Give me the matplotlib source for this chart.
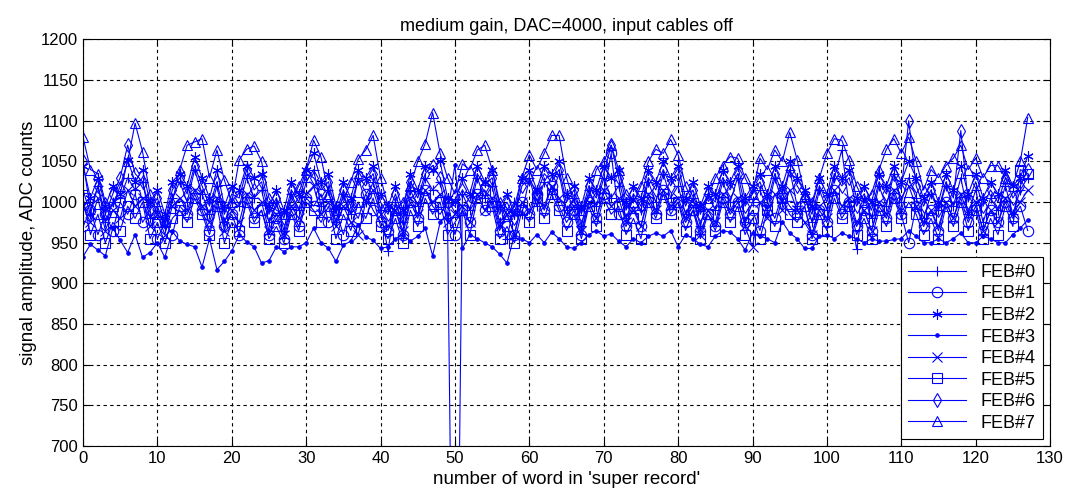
import numpy as np
import matplotlib
matplotlib.use('Agg')
import matplotlib.pyplot as plt

plt.rcParams['font.family'] = ['Liberation Sans', 'DejaVu Sans']

# word index inside the super record
words = np.arange(128)

# ADC readings per front-end board
feb0 = [1015, 985, 1020, 975, 1000, 1005, 1030, 1015, 1025, 980, 995, 970, 1005, 1025, 1000, 1040,
        1010, 985, 1020, 975, 1000, 995, 1030, 1005, 1015, 975, 1000, 965, 1010, 990, 1025, 1040,
        995, 1015, 975, 1010, 985, 1030, 1000, 1025, 990, 940, 1000, 975, 1015, 995, 1030, 1015,
        1025, 980, 190, 1010, 990, 1030, 1005, 1020, 975, 955, 1000, 985, 1030, 995, 1025, 1010,
        1035, 990, 1005, 970, 1015, 995, 1030, 1005, 1020, 980, 1005, 990, 1025, 1000, 1035, 1005,
        1020, 985, 1005, 970, 1010, 990, 1025, 1000, 1030, 975, 1000, 1015, 990, 1030, 1000, 1040,
        995, 1010, 975, 1015, 990, 1030, 1064, 995, 942, 1005, 980, 1020, 995, 1035, 1000, 1030,
        1005, 980, 1010, 990, 1020, 995, 1030, 985, 1015, 975, 1005, 990, 1020, 985, 1015, 1030]
feb1 = [970, 990, 960, 985, 965, 1000, 985, 1010, 975, 990, 955, 975, 960, 995, 985, 1010,
        990, 965, 1000, 970, 985, 960, 1005, 980, 990, 960, 980, 955, 990, 970, 1005, 995,
        1010, 975, 990, 960, 995, 980, 1010, 990, 975, 965, 990, 960, 1000, 980, 1015, 995,
        985, 1000, 960, 990, 975, 1010, 990, 1000, 965, 985, 960, 1000, 985, 1010, 990, 1020,
        995, 975, 990, 960, 1000, 980, 1010, 1060, 985, 970, 995, 970, 1005, 985, 1015, 990,
        1000, 975, 990, 965, 985, 970, 1005, 985, 1000, 975, 990, 965, 1000, 980, 1010, 995,
        985, 995, 960, 990, 975, 1015, 985, 1000, 970, 990, 965, 995, 980, 1010, 985, 950,
        995, 970, 990, 965, 1000, 980, 1005, 975, 995, 965, 990, 975, 1000, 980, 995, 965]
feb2 = [1045, 1005, 1030, 995, 1020, 1010, 1052, 1025, 1040, 1000, 1015, 985, 1025, 1035, 1020, 1055,
        1030, 1005, 1040, 995, 1020, 1015, 1045, 1030, 1035, 995, 1015, 990, 1025, 1010, 1040, 1060,
        1025, 1035, 995, 1025, 1005, 1040, 1030, 1045, 1010, 995, 1020, 990, 1035, 1015, 1045, 1040,
        1050, 1005, 1000, 1030, 1010, 1045, 1025, 1040, 995, 1010, 985, 1030, 1040, 1015, 1045, 1035,
        1050, 1010, 1020, 995, 1030, 1015, 1045, 1030, 1040, 1000, 1020, 1005, 1040, 1025, 1050, 1030,
        1045, 1005, 1025, 995, 1020, 1010, 1040, 1025, 1045, 1005, 1020, 1035, 1010, 1045, 1020, 1050,
        1030, 1015, 995, 1030, 1010, 1045, 1030, 1040, 1005, 1020, 1000, 1035, 1020, 1045, 1025, 1050,
        1030, 1005, 1025, 1000, 1035, 1015, 1045, 1010, 1035, 1005, 1025, 1010, 1040, 1020, 1030, 1057]
feb3 = [933, 948, 941, 934, 968, 953, 938, 960, 932, 938, 950, 932, 964, 952, 948, 945,
        920, 955, 917, 927, 940, 960, 951, 945, 925, 928, 945, 939, 945, 945, 950, 968,
        950, 943, 927, 947, 952, 972, 957, 953, 943, 945, 955, 960, 952, 958, 968, 934,
        975, 985, 1046, 943, 960, 955, 950, 945, 936, 925, 960, 955, 950, 960, 950, 963,
        955, 945, 943, 950, 960, 965, 958, 961, 952, 945, 955, 950, 958, 962, 958, 965,
        945, 960, 955, 948, 945, 958, 965, 963, 955, 941, 962, 958, 955, 950, 976, 962,
        955, 943, 943, 958, 960, 955, 962, 958, 955, 950, 955, 952, 952, 954, 955, 965,
        958, 950, 950, 955, 950, 955, 962, 950, 950, 958, 955, 950, 950, 960, 968, 978]
feb4 = [995, 975, 1005, 965, 990, 980, 1015, 995, 1005, 970, 985, 960, 995, 1005, 990, 1015,
        995, 975, 1005, 965, 990, 975, 1010, 990, 1000, 965, 985, 960, 995, 980, 1010, 1020,
        985, 1000, 970, 995, 975, 960, 1000, 1015, 985, 970, 990, 965, 1005, 985, 1015, 1000,
        1010, 975, 985, 995, 975, 1010, 990, 1005, 970, 985, 960, 1000, 990, 1015, 995, 1020,
        1005, 985, 995, 965, 1000, 980, 1015, 995, 1005, 975, 990, 970, 1010, 990, 1015, 995,
        1005, 980, 995, 960, 990, 975, 1010, 990, 1005, 970, 945, 1000, 980, 1010, 990, 1015,
        990, 975, 960, 995, 980, 1015, 995, 1005, 975, 990, 965, 1000, 985, 1015, 990, 1020,
        995, 975, 990, 970, 1000, 980, 1010, 985, 1000, 965, 990, 975, 1005, 985, 1000, 1015]
feb5 = [1005, 960, 985, 950, 975, 965, 995, 980, 1000, 955, 975, 950, 980, 990, 975, 1005,
        985, 960, 995, 950, 975, 965, 1000, 975, 990, 955, 970, 950, 985, 965, 1000, 990,
        975, 995, 955, 985, 965, 1000, 980, 1005, 970, 955, 980, 950, 990, 970, 1005, 985,
        1000, 960, 975, 990, 960, 1005, 1015, 995, 955, 970, 950, 990, 975, 1005, 980, 1010,
        990, 965, 985, 955, 995, 970, 1005, 985, 995, 960, 980, 955, 1000, 980, 1010, 985,
        1000, 965, 990, 955, 985, 965, 1000, 975, 995, 960, 980, 955, 990, 970, 1005, 985,
        975, 995, 955, 985, 965, 1005, 980, 995, 960, 980, 955, 990, 970, 1005, 980, 1000,
        985, 960, 980, 955, 995, 970, 1000, 965, 990, 955, 980, 960, 995, 970, 1040, 1035]
feb6 = [1050, 990, 1020, 985, 1010, 1030, 1070, 1035, 1025, 990, 1005, 975, 1015, 1030, 1010, 1045,
        1020, 995, 1025, 985, 1010, 1005, 1040, 1015, 1025, 985, 1005, 980, 1015, 1000, 1035, 1030,
        1015, 1025, 985, 1015, 995, 1030, 1020, 1035, 1000, 985, 1010, 980, 1025, 1005, 1035, 1045,
        1030, 1000, 995, 1015, 1000, 1035, 1020, 1030, 985, 1000, 980, 1020, 1030, 1010, 1035, 1025,
        1040, 1000, 1015, 985, 1020, 1005, 1035, 1070, 1030, 990, 1010, 995, 1030, 1015, 1040, 1020,
        1035, 995, 1015, 985, 1010, 1000, 1030, 1015, 1035, 995, 1010, 1025, 1000, 1035, 1010, 1040,
        1020, 1005, 985, 1020, 1000, 1035, 1020, 1030, 995, 1010, 990, 1025, 1010, 1035, 1015, 1100,
        1020, 995, 1015, 990, 1025, 1005, 1088, 1000, 1025, 995, 1015, 1000, 1030, 1005, 1020, 1040]
feb7 = [1080, 1040, 1035, 1000, 995, 1020, 1050, 1097, 1062, 1010, 985, 975, 1000, 1040, 1070, 1074,
        1078, 1030, 1064, 1027, 1000, 1052, 1065, 1069, 1050, 1005, 990, 985, 1000, 1020, 1040, 1076,
        1055, 1010, 990, 1000, 1025, 1053, 1064, 1082, 1030, 995, 990, 1000, 1020, 1050, 1072, 1110,
        1060, 1030, 1010, 1047, 1040, 1064, 1070, 1040, 1000, 985, 995, 1030, 1058, 1040, 1060, 1082,
        1082, 1030, 1000, 990, 1005, 1040, 1050, 1070, 1040, 1010, 1000, 1020, 1050, 1065, 1060, 1077,
        1058, 1020, 1000, 995, 1005, 1030, 1045, 1056, 1054, 1030, 1010, 1054, 1040, 1064, 1050, 1086,
        1052, 1010, 1000, 1030, 1060, 1078, 1076, 1052, 1020, 1000, 1010, 1040, 1065, 1078, 1060, 1080,
        1050, 1015, 1040, 1030, 1045, 1054, 1070, 1040, 1054, 1030, 1045, 1045, 1030, 1020, 1050, 1104]

series = [feb0, feb1, feb2, feb3, feb4, feb5, feb6, feb7]
labels = ['FEB#0', 'FEB#1', 'FEB#2', 'FEB#3', 'FEB#4', 'FEB#5', 'FEB#6', 'FEB#7']
# matlab style symbols; '*' drawn as a six-armed asterisk
markers = ['+', 'o', (6, 2, 0), '.', 'x', 's', 'd', '^']

fig = plt.figure(figsize=(10.74, 4.98), dpi=100)
ax = fig.add_axes([0.0773, 0.1044, 0.9004, 0.8163])

for vals, lab, mk in zip(series, labels, markers):
    dot = isinstance(mk, str) and mk == '.'
    ax.plot(words, vals, color='blue', lw=0.8, marker=mk, ms=5 if dot else 7.5,
            mfc='blue' if dot else 'none', mec='blue', mew=0.8, label=lab)

ax.set_xlim(0, 130)
ax.set_ylim(700, 1200)
ax.set_xticks(np.arange(0, 131, 10))
ax.set_yticks(np.arange(700, 1201, 50))
ax.grid(True, color='black', linestyle=(0, (3, 3)), lw=0.8)
ax.tick_params(direction='in', top=True, right=True, labelsize=12, length=5)
for s in ax.spines.values():
    s.set_linewidth(0.8)

ax.set_title('medium gain, DAC=4000, input cables off', fontsize=13)
ax.set_xlabel("number of word in 'super record'", fontsize=13.5)
ax.set_ylabel('signal amplitude, ADC counts', fontsize=13.5, labelpad=3)

leg = ax.legend(loc='lower right', fontsize=13, fancybox=False, framealpha=1,
                edgecolor='black', handlelength=3.2, numpoints=1,
                borderaxespad=0.4, labelspacing=0.25)
leg.get_frame().set_linewidth(0.8)

fig.savefig('out.png', dpi=100)
